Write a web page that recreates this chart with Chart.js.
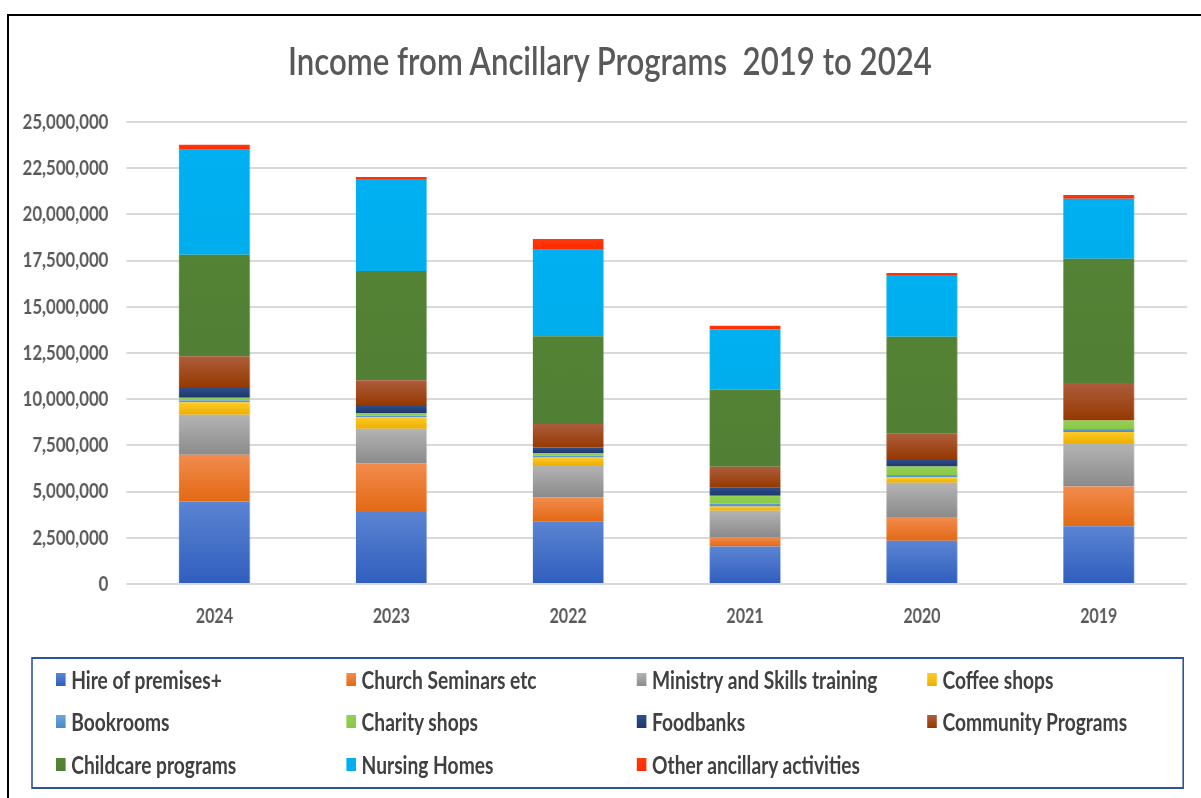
<!DOCTYPE html>
<html>
<head>
<meta charset="utf-8">
<title>Income from Ancillary Programs 2019 to 2024</title>
<script src="https://cdn.jsdelivr.net/npm/chart.js@4.4.1/dist/chart.umd.min.js"></script>
<style>
  html, body { margin: 0; padding: 0; background: #fff; overflow: hidden; }
  body { width: 1201px; height: 798px; position: relative; }
  /* outer frame around the chart */
  .frame { position: absolute; left: 7px; top: 14px; width: 1300px; height: 900px;
           border: 2px solid #000; box-sizing: border-box; }
  /* the chart is laid out wide and squeezed to 80% horizontally, like the pasted Excel image */
  .sheet { position: absolute; left: 0; top: 0; width: 1501px; height: 798px;
           transform: scaleX(0.8); transform-origin: 0 0; }
  #title { position: absolute; left: 0; top: 41px; width: 1525px; text-align: center; white-space: pre;
           font-family: Lato, "Open Sans", sans-serif; font-weight: 600; font-size: 39px; line-height: 39px;
           color: #595959; }
  #income { position: absolute; left: 0; top: 0; }
  #legend { position: absolute; left: 39px; top: 657px; width: 1441px; height: 132px;
            border: 2px solid #2f5597; box-sizing: border-box; padding-left: 29px; padding-top: 0;
            display: grid; grid-template-columns: repeat(4, 363px); grid-template-rows: 40px 44px 43px;
            font-family: Lato, "Open Sans", sans-serif; font-weight: bold; font-size: 24px; color: #404040; }
  #legend .item { display: flex; align-items: center; white-space: nowrap; }
  #legend .box { width: 12px; height: 13px; margin-right: 7px; flex: none; }
</style>
</head>
<body>
<div class="frame"></div>
<div class="sheet">
  <div id="title">Income from Ancillary Programs  2019 to 2024</div>
  <canvas id="income" width="1501" height="650"></canvas>
  <div id="legend"></div>
</div>
<script>
// years as they appear on the x axis (newest first)
const years = ['2024', '2023', '2022', '2021', '2020', '2019'];

const seriesNames = [
  'Hire of premises+', 'Church Seminars etc', 'Ministry and Skills training', 'Coffee shops',
  'Bookrooms', 'Charity shops', 'Foodbanks', 'Community Programs',
  'Childcare programs', 'Nursing Homes', 'Other ancillary activities'
];

// income per program, same order as years
const hireOfPremises   = [4470000, 3900000, 3390000, 2030000, 2340000, 3120000];
const churchSeminars   = [2530000, 2630000, 1300000,  510000, 1290000, 2160000];
const ministrySkills   = [2160000, 1870000, 1750000, 1430000, 1850000, 2350000];
const coffeeShops      = [ 670000,  620000,  410000,  230000,  290000,  600000];
const bookrooms        = [ 110000,   90000,   90000,  160000,  130000,  160000];
const charityShops     = [ 140000,  140000,  150000,  420000,  460000,  460000];
const foodbanks        = [ 580000,  440000,  300000,  450000,  400000,       0];
const communityProgs   = [1660000, 1330000, 1270000, 1120000, 1370000, 2030000];
const childcareProgs   = [5500000, 5920000, 4740000, 4180000, 5250000, 6720000];
const nursingHomes     = [5680000, 4980000, 4690000, 3250000, 3340000, 3250000];
const otherAncillary   = [ 270000,  100000,  580000,  200000,  110000,  200000];

const seriesValues = [
  hireOfPremises, churchSeminars, ministrySkills, coffeeShops, bookrooms, charityShops,
  foodbanks, communityProgs, childcareProgs, nursingHomes, otherAncillary
];

// y axis range
const yMax = 25000000;
const yStep = 2500000;

// [top, bottom] shade for each series' vertical gradient
const seriesShades = [
  ['#5b84d3', '#2f5ebd'],
  ['#f28c4e', '#e36914'],
  ['#b4b4b4', '#8b8b8b'],
  ['#ffca28', '#ecb000'],
  ['#6aa6dc', '#4a89ca'],
  ['#94d152', '#8ac84a'],
  ['#2f4f8f', '#1e3868'],
  ['#ad5d3d', '#953900'],
  ['#558336', '#517f33'],
  ['#00b0f0', '#00aeee'],
  ['#ff3a0a', '#ff2a00']
];

function segmentFill(s) {
  const [light, dark] = seriesShades[s];
  return ctx => {
    const chart = ctx.chart;
    const y = chart.scales.y;
    if (ctx.type !== 'data' || !y) return light;
    let base = 0;
    for (let k = 0; k < s; k++) base += seriesValues[k][ctx.dataIndex];
    const top = base + seriesValues[s][ctx.dataIndex];
    const y0 = y.getPixelForValue(base);
    const y1 = y.getPixelForValue(top);
    if (!isFinite(y0) || !isFinite(y1) || y0 === y1) return light;
    const g = chart.ctx.createLinearGradient(0, y1, 0, y0);
    g.addColorStop(0, light);
    g.addColorStop(1, dark);
    return g;
  };
}

const font = 'Lato, "Open Sans", sans-serif';

new Chart(document.getElementById('income'), {
  type: 'bar',
  data: {
    labels: years,
    datasets: seriesNames.map((name, s) => ({
      label: name,
      data: seriesValues[s],
      backgroundColor: segmentFill(s),
      borderWidth: 0,
      categoryPercentage: 0.4,
      barPercentage: 1
    }))
  },
  options: {
    responsive: false,
    animation: false,
    events: [],
    layout: { padding: { top: 122, right: 17, bottom: 16, left: 0 } },
    plugins: {
      legend: { display: false },
      tooltip: { enabled: false }
    },
    scales: {
      x: {
        stacked: true,
        grid: { display: false },
        border: { display: false },
        ticks: { color: '#595959', padding: 13, font: { family: font, size: 20, weight: 'bold' } },
        afterFit: scale => { scale.height = 50; }
      },
      y: {
        stacked: true,
        min: 0,
        max: yMax,
        grid: { color: '#d9d9d9', lineWidth: 2, drawTicks: false },
        border: { display: false },
        ticks: {
          stepSize: yStep,
          padding: 22,
          color: '#595959',
          font: { family: font, size: 21, weight: 'bold' },
          callback: v => v.toLocaleString('en-US')
        },
        afterFit: scale => { scale.width = 157.5; }
      }
    }
  }
});

// four-column legend below the plot
const legend = document.getElementById('legend');
seriesNames.forEach((name, s) => {
  const item = document.createElement('div');
  item.className = 'item';
  const box = document.createElement('span');
  box.className = 'box';
  box.style.background = `linear-gradient(${seriesShades[s][0]}, ${seriesShades[s][1]})`;
  item.appendChild(box);
  item.appendChild(document.createTextNode(name));
  legend.appendChild(item);
});
</script>
</body>
</html>
